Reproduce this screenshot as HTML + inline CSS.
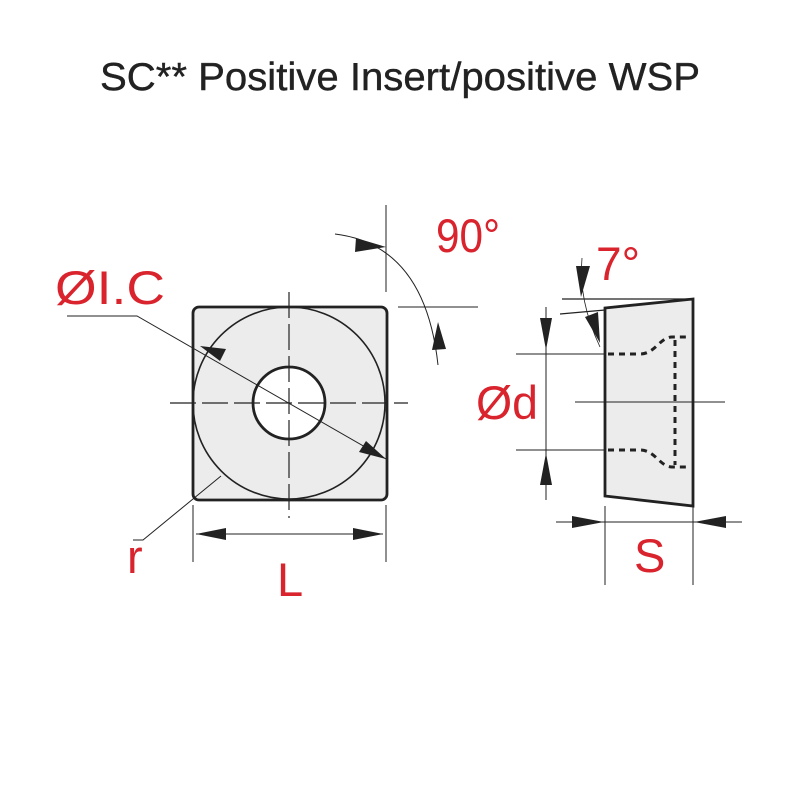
<!DOCTYPE html>
<html><head><style>body{margin:0;background:#fff}svg{display:block}</style></head><body>
<svg width="800" height="800" viewBox="0 0 800 800" xmlns="http://www.w3.org/2000/svg">
<text x="100" y="90" textLength="600" lengthAdjust="spacingAndGlyphs" font-family="Liberation Sans, sans-serif" font-size="39" fill="#222" stroke="#222" stroke-width="0.4">SC** Positive Insert/positive WSP</text>
<g stroke="#222" fill="none">
<rect x="193" y="307" width="194" height="193" rx="6" fill="#ececec" stroke-width="2.8"/>
<circle cx="289" cy="403" r="96" stroke-width="1.6"/>
<circle cx="289" cy="403" r="36" fill="#fff" stroke-width="2.8"/>
<line x1="170" y1="403" x2="408" y2="403" stroke-dasharray="26,6,26,6" stroke-width="1.2"/>
<line x1="289" y1="292" x2="289" y2="518" stroke-dasharray="26,6,26,6" stroke-width="1.2"/>
<polyline points="67,316 137,316 386,459" stroke-width="1"/>
<polyline points="133,540 143,540 221,476" stroke-width="1"/>
<line x1="193" y1="505" x2="193" y2="562" stroke-width="1"/>
<line x1="386" y1="505" x2="386" y2="562" stroke-width="1"/>
<line x1="196" y1="534" x2="383" y2="534" stroke-width="1"/>
<line x1="386" y1="205" x2="386" y2="292" stroke-width="1"/>
<line x1="398" y1="307" x2="478" y2="307" stroke-width="1"/>
<path d="M335,234 Q425,245 438,365" stroke-width="1"/>
<polygon points="605,308 693,299 693,506 605,496" fill="#ececec" stroke-width="2.8"/>
<line x1="562" y1="299" x2="693" y2="299" stroke-width="1.2"/>
<line x1="560" y1="314" x2="605" y2="310" stroke-width="1.2"/>
<path d="M582,258 Q578,300 600,347" stroke-width="0.8"/>
<line x1="516" y1="354" x2="605" y2="354" stroke-width="1"/>
<line x1="516" y1="450" x2="605" y2="450" stroke-width="1"/>
<line x1="546" y1="307" x2="546" y2="500" stroke-width="1"/>
<line x1="575" y1="402" x2="725" y2="402" stroke-width="1"/>
<path d="M608,354 L640,354 C655,354 660,337 672,337 L686,337 M675,340 L675,465 M608,450 L640,450 C655,450 660,467 672,467 L686,467" stroke-width="3" stroke-dasharray="6,5"/>
<line x1="556" y1="522" x2="742" y2="522" stroke-width="1"/>
<line x1="605" y1="506" x2="605" y2="585" stroke-width="1"/>
<line x1="693" y1="506" x2="693" y2="585" stroke-width="1"/>
</g>
<g fill="#222">
<polygon points="196,534 226,528 226,540"/>
<polygon points="383,534 353,528 353,540"/>
<polygon points="200,346 226,349 220,361"/>
<polygon points="386,459 359,452 366,441"/>
<polygon points="386,247 356,238 355,252"/>
<polygon points="438,322 432,350 446,349"/>
<polygon points="546,350 540,318 552,318"/>
<polygon points="546,453 540,485 552,485"/>
<polygon points="604,522 572,516 572,528"/>
<polygon points="694,522 726,516 726,528"/>
<polygon points="581,297 576,266 590,266"/>
<polygon points="600,343 585,317 598,312"/>
</g>
<g font-family="Liberation Sans, sans-serif" fill="#d9232d" font-size="47">
<text x="436" y="252" textLength="64" lengthAdjust="spacingAndGlyphs">90°</text>
<text x="596" y="280" textLength="44" lengthAdjust="spacingAndGlyphs">7°</text>
<text x="55" y="304" textLength="110" lengthAdjust="spacingAndGlyphs">ØI.C</text>
<text x="476" y="419" textLength="62" lengthAdjust="spacingAndGlyphs">Ød</text>
<text x="127" y="573">r</text>
<text x="277" y="596">L</text>
<text x="634" y="572">S</text>
</g>
</svg>
</body></html>
